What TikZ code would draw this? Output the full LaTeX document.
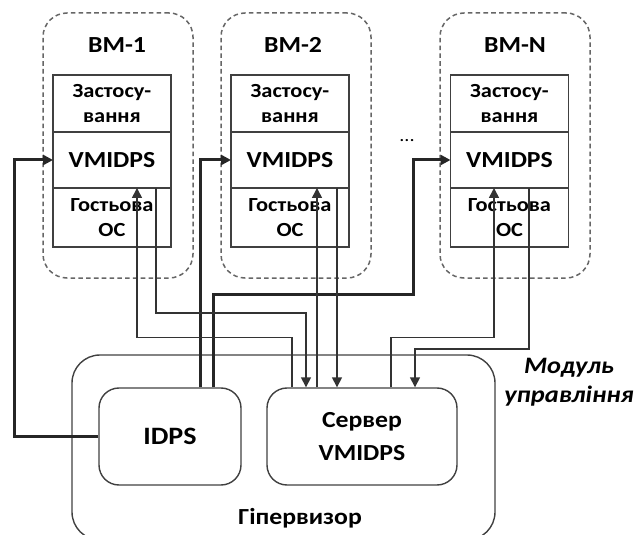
\documentclass[tikz,border=0pt]{standalone}
\usepackage{fontspec}
\setmainfont[FakeStretch=1.12]{Carlito}
\usetikzlibrary{arrows.meta}

\begin{document}
\begin{tikzpicture}[x=0.5pt,y=-0.5pt,
    vm/.style={draw=black!60,line width=0.75pt,dash pattern=on 2.3pt off 1.6pt,rounded corners=12pt,minimum width=75pt,minimum height=132.5pt,inner sep=0pt},
    part/.style={draw=black!75,line width=0.6pt,minimum width=59pt,inner sep=0pt,outer sep=0pt,align=center},
    small/.style={font=\bfseries\fontsize{10}{12.5}\selectfont},
    big/.style={font=\bfseries\fontsize{11.5}{14}\selectfont},
    box/.style={draw=black!75,line width=0.7pt,rounded corners=10pt,minimum width=71pt,minimum height=48.5pt,align=center},
    thin/.style={draw=black!80,line width=0.8pt},
    thick/.style={draw=black!85,line width=1.5pt},
    arr/.style={-{Triangle[length=5pt,width=5pt]}}]
    \useasboundingbox (0,0) rectangle (638,535);

    % virtual machines
    \node[vm] (V1) at (118,145.5) {};
    \node[vm] (V2) at (296,145.5) {};
    \node[vm] (V3) at (515,145.5) {};
    \node[big] (L1) at (117,45) {ВМ-1};
    \node[big] (L2) at (293,45) {ВМ-2};
    \node[big] (L3) at (515,45) {ВМ-N};

    \node[part,small,minimum height=28.5pt] (A1) at (112,103.5) {Застосу-\\вання};
    \node[part,big,minimum height=28pt] (M1) at (112,160) {VMIDPS};
    \node[part,small,minimum height=29.5pt] (G1) at (112,217.5) {Гостьова\\ОС};

    \node[part,small,minimum height=28.5pt] (A2) at (290,103.5) {Застосу-\\вання};
    \node[part,big,minimum height=28pt] (M2) at (290,160) {VMIDPS};
    \node[part,small,minimum height=29.5pt] (G2) at (290,217.5) {Гостьова\\ОС};

    \node[part,small,minimum height=28.5pt] (A3) at (509.5,103.5) {Застосу-\\вання};
    \node[part,big,minimum height=28pt] (M3) at (509.5,160) {VMIDPS};
    \node[part,small,minimum height=29.5pt] (G3) at (509.5,217.5) {Гостьова\\ОС};

    \node[font=\fontsize{9}{10}\selectfont] (D) at (407,141) {...};

    % hypervisor
    \node[box,rounded corners=14pt,minimum width=211.5pt,minimum height=92.5pt] (H) at (283.5,447.5) {};
    \node[box,font=\bfseries\fontsize{12.5}{15}\selectfont] (I) at (170,436.5) {IDPS};
    \node[box,minimum width=95pt,font=\bfseries\fontsize{11.5}{16.5}\selectfont] (S) at (362,436.5) {Сервер\\VMIDPS};
    \node[big] (HL) at (300,518) {Гіпервизор};
    \node[align=center,font=\bfseries\itshape\fontsize{11.8}{14.5}\selectfont] (ML) at (569,382) {Модуль\\управління};

    % IDPS links
    \path[thick,arr] (I.west) -- ++(-84,0) |- (M1.west);
    \path[thick,arr] ([xshift=15pt]I.north) |- (M2.west);
    \path[thick,arr] ([xshift=21.5pt]I.north) -- ++(0,-93) -- ++(200,0) |- (M3.west);

    % server links
    \path[thin,arr] ([xshift=-35pt]S.north) -- ++(0,-50) -| ([xshift=12.5pt]M1.south);
    \path[thin,arr] ([xshift=22pt]M1.south) -- ++(0,125) -| ([xshift=-28pt]S.north);
    \path[thin,arr] ([xshift=-22.5pt]S.north) -- ([xshift=13.5pt]M2.south);
    \path[thin,arr] ([xshift=23.5pt]M2.south) -- ([xshift=-12.5pt]S.north);
    \path[thin,arr] ([xshift=14.5pt]S.north) -- ++(0,-50) -| ([xshift=-7.75pt]M3.south);
    \path[thin,arr] ([xshift=9.75pt]M3.south) -- ++(0,161) -| ([xshift=26.5pt]S.north);
\end{tikzpicture}
\end{document}
